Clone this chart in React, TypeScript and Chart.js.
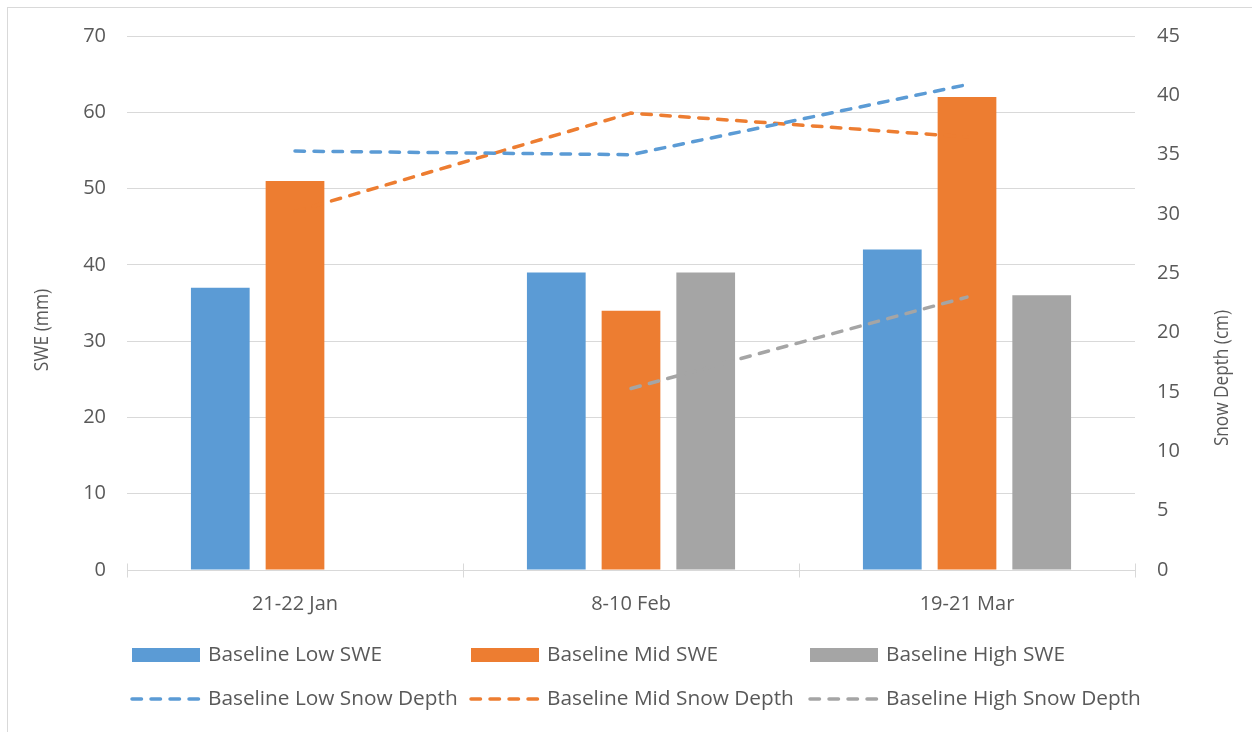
import React, { useEffect, useRef } from 'react';
import { Chart, registerables } from 'chart.js';

Chart.register(...registerables);

// ---- data ----
const categories = ['21-22 Jan', '8-10 Feb', '19-21 Mar'];
const lowSWE = [37, 39, 42];
const midSWE = [51, 34, 62];
const highSWE = [null, 39, 36];
const lowDepth = [35.3, 35.0, 40.9];
const midDepth = [30.2, 38.5, 36.5];
const highDepth = [null, 15.3, 23.0];
const sweAxis = { min: 0, max: 70, step: 10, title: 'SWE (mm)' };
const depthAxis = { min: 0, max: 45, step: 5, title: 'Snow Depth (cm)' };

const BLUE = '#5B9BD5';
const ORANGE = '#ED7D31';
const GRAY = '#A5A5A5';
const TEXT = '#595959';
const GRID = '#d9d9d9';
const FONT = "'Open Sans', sans-serif";
const DASH = [9.5, 9.5];
const LW = 3.5;

const decorPlugin = {
  id: 'decor',
  beforeDatasetsDraw(chart: any) {
    const { ctx, chartArea, scales } = chart;
    const xs = scales.x;
    ctx.save();
    ctx.strokeStyle = GRID;
    ctx.lineWidth = 1;
    const y0 = Math.round(chartArea.bottom) + 0.5;
    ctx.beginPath();
    ctx.moveTo(chartArea.left, y0);
    ctx.lineTo(chartArea.right, y0);
    for (let i = 0; i <= categories.length; i++) {
      const px = Math.round(xs.getPixelForValue(i - 0.5)) + 0.5;
      ctx.moveTo(px, y0 - 7);
      ctx.lineTo(px, y0 + 7);
    }
    ctx.stroke();
    ctx.restore();
  },
  afterDraw(chart: any) {
    const { ctx } = chart;
    const ds = chart.data.datasets;
    ctx.save();
    // axis titles (bottom-to-top, slightly condensed like the original)
    ctx.fillStyle = TEXT;
    ctx.font = `20px ${FONT}`;
    ctx.textAlign = 'center';
    ctx.textBaseline = 'middle';
    ctx.save();
    ctx.translate(42, 330);
    ctx.rotate(-Math.PI / 2);
    ctx.scale(0.87, 1);
    ctx.fillText(sweAxis.title, 0, 0);
    ctx.restore();
    ctx.save();
    ctx.translate(1222, 378);
    ctx.rotate(-Math.PI / 2);
    ctx.scale(0.86, 1);
    ctx.fillText(depthAxis.title, 0, 0);
    ctx.restore();

    // legend
    const colX = [132, 471, 810];
    const rowY = [655, 699];
    ctx.font = `20.8px ${FONT}`;
    ctx.textAlign = 'left';
    ctx.textBaseline = 'middle';
    ds.forEach((d: any, i: number) => {
      const row = d.type === 'bar' ? 0 : 1;
      const col = i % 3;
      const x = colX[col];
      const y = rowY[row];
      if (row === 0) {
        ctx.fillStyle = d.backgroundColor;
        ctx.fillRect(x, y - 7, 68, 14);
      } else {
        ctx.save();
        ctx.strokeStyle = d.borderColor;
        ctx.lineWidth = LW;
        ctx.lineCap = 'round';
        ctx.setLineDash(DASH);
        ctx.beginPath();
        ctx.moveTo(x, y);
        ctx.lineTo(x + 68, y);
        ctx.stroke();
        ctx.restore();
      }
      ctx.fillStyle = TEXT;
      ctx.fillText(d.label, x + 76, y);
    });
    ctx.restore();
  },
};

export default function App() {
  const ref = useRef<HTMLCanvasElement>(null);
  useEffect(() => {
    const barCommon = {
      type: 'bar' as const,
      yAxisID: 'y',
      order: 1,
      categoryPercentage: 0.667,
      barPercentage: 0.786,
    };
    const lineCommon = {
      type: 'line' as const,
      yAxisID: 'y1',
      order: 0,
      borderWidth: LW,
      borderDash: DASH,
      borderCapStyle: 'round' as const,
      pointRadius: 0,
      fill: false,
      tension: 0,
    };
    const chart = new Chart(ref.current as HTMLCanvasElement, {
      type: 'bar',
      data: {
        labels: categories,
        datasets: [
          { ...barCommon, label: 'Baseline Low SWE', data: lowSWE, backgroundColor: BLUE },
          { ...barCommon, label: 'Baseline Mid SWE', data: midSWE, backgroundColor: ORANGE },
          { ...barCommon, label: 'Baseline High SWE', data: highSWE, backgroundColor: GRAY },
          { ...lineCommon, label: 'Baseline Low Snow Depth', data: lowDepth, borderColor: BLUE, backgroundColor: BLUE },
          { ...lineCommon, label: 'Baseline Mid Snow Depth', data: midDepth, borderColor: ORANGE, backgroundColor: ORANGE },
          { ...lineCommon, label: 'Baseline High Snow Depth', data: highDepth, borderColor: GRAY, backgroundColor: GRAY },
        ] as any,
      },
      options: {
        animation: false,
        responsive: false,
        layout: { padding: { top: 36, left: 0, right: 0, bottom: 0 } },
        font: { family: FONT, size: 20 },
        plugins: {
          legend: { display: false },
          tooltip: { enabled: false },
        },
        scales: {
          x: {
            grid: { display: false, drawTicks: false },
            border: { display: false },
            ticks: { color: TEXT, font: { family: FONT, size: 20 }, padding: 22, maxRotation: 0 },
            afterFit: (s: any) => { s.height = 162; },
          },
          y: {
            position: 'left',
            min: sweAxis.min,
            max: sweAxis.max,
            ticks: { stepSize: sweAxis.step, color: TEXT, font: { family: FONT, size: 20 }, padding: 21 },
            grid: { color: GRID, lineWidth: 1, drawTicks: false },
            border: { display: false },
            afterFit: (s: any) => { s.width = 127; },
          },
          y1: {
            position: 'right',
            min: depthAxis.min,
            max: depthAxis.max,
            ticks: { stepSize: depthAxis.step, color: TEXT, font: { family: FONT, size: 20 }, padding: 22 },
            grid: { display: false, drawTicks: false },
            border: { display: false },
            afterFit: (s: any) => { s.width = 117; },
          },
        },
      } as any,
      plugins: [decorPlugin],
    });
    return () => chart.destroy();
  }, []);
  return (
    <>
      <div
        style={{
          position: 'fixed',
          left: 7,
          top: 7,
          width: 1300,
          height: 800,
          border: `1px solid ${GRID}`,
          background: '#fff',
        }}
      />
      <div style={{ position: 'fixed', left: 0, top: 0, width: 1252, height: 732 }}>
        <canvas ref={ref} width={1252} height={732} style={{ display: 'block' }} />
      </div>
    </>
  );
}
